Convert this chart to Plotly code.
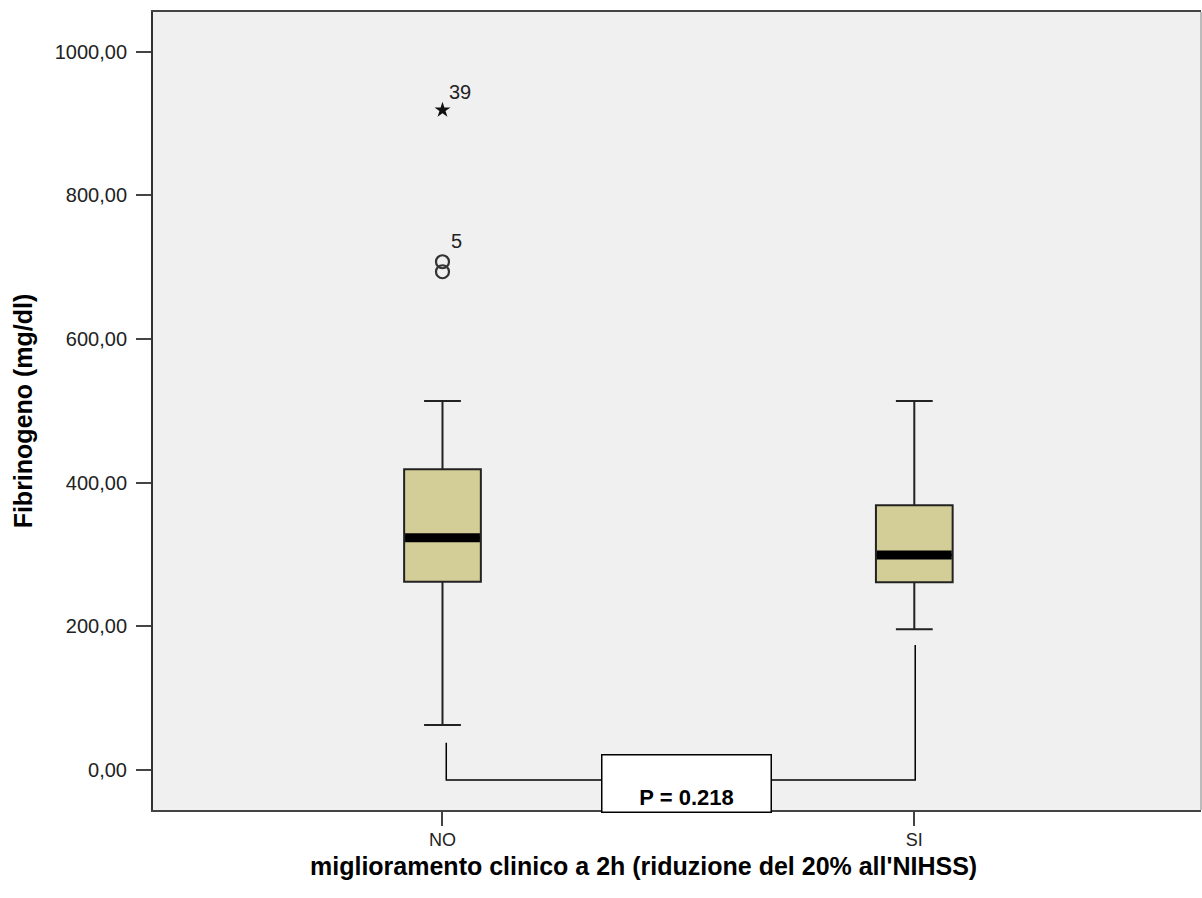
import plotly.graph_objects as go

# ---- data ----
categories = ["NO", "SI"]
positions = [0, 1]
q1 = [262.2, 261.3]
median = [323.4, 299.3]
q3 = [418.6, 368.5]
lower_whisker = [62.6, 195.8]
upper_whisker = [513.7, 513.7]

extreme_y = [918.8]          # star outlier (case 39), group NO
extreme_labels = ["39"]
outlier_y = [707.6, 693.7]   # circle outliers, group NO
outlier_labels = ["5", ""]

ytick_vals = [0, 200, 400, 600, 800, 1000]
ytick_text = ["0,00", "200,00", "400,00", "600,00", "800,00", "1000,00"]

p_text = "P = 0.218"
bracket_left_top = 38
bracket_right_top = 174
bracket_level = -13.9

# ---- style ----
FONT = "Liberation Sans, Arial, sans-serif"
BOX_FILL = "#d3cd97"
BOX_W = 0.1626

fig = go.Figure()

for i, pos in enumerate(positions):
    fig.add_trace(go.Box(
        x=[pos], q1=[q1[i]], median=[median[i]], q3=[q3[i]],
        lowerfence=[lower_whisker[i]], upperfence=[upper_whisker[i]],
        width=BOX_W, whiskerwidth=0.48, boxpoints=False,
        fillcolor=BOX_FILL, line=dict(color="#222222", width=2),
        showlegend=False, hoverinfo="skip",
    ))
    # thick median bar
    fig.add_trace(go.Scatter(
        x=[pos - BOX_W / 2 + 0.002, pos + BOX_W / 2 - 0.002],
        y=[median[i], median[i]], mode="lines",
        line=dict(color="black", width=9), showlegend=False, hoverinfo="skip",
    ))

# extreme outlier (star)
fig.add_trace(go.Scatter(
    x=[positions[0]] * len(extreme_y), y=extreme_y, mode="markers",
    marker=dict(symbol="star", size=12, color="#111111"),
    showlegend=False, hoverinfo="skip",
))
# outliers (circles)
fig.add_trace(go.Scatter(
    x=[positions[0]] * len(outlier_y), y=outlier_y, mode="markers",
    marker=dict(symbol="circle-open", size=13, color="#333333", line=dict(width=2.2)),
    showlegend=False, hoverinfo="skip",
))

annotations = []
for yv, lab in zip(extreme_y, extreme_labels):
    annotations.append(dict(x=positions[0], y=yv, text=lab, showarrow=False,
                            xref="x", yref="y", xshift=18, yshift=18,
                            font=dict(family=FONT, size=20, color="#222")))
for yv, lab in zip(outlier_y, outlier_labels):
    if lab:
        annotations.append(dict(x=positions[0], y=yv, text=lab, showarrow=False,
                                xref="x", yref="y", xshift=14, yshift=21,
                                font=dict(family=FONT, size=20, color="#222")))

# bracket
fig.add_trace(go.Scatter(
    x=[positions[0] + 0.008, positions[0] + 0.008, positions[1] + 0.002, positions[1] + 0.002],
    y=[bracket_left_top, bracket_level, bracket_level, bracket_right_top],
    mode="lines", line=dict(color="black", width=1.5),
    showlegend=False, hoverinfo="skip",
))

# p-value box
annotations.append(dict(
    x=0.5176, y=-18.6, xref="x", yref="y", showarrow=False,
    text="<b>" + p_text + "</b>", width=164, height=52, valign="bottom",
    bgcolor="white", bordercolor="black", borderwidth=1.5, borderpad=2,
    font=dict(family=FONT, size=22, color="black"),
))

# x-axis title
annotations.append(dict(
    x=0.4676, y=-0.0705, xref="paper", yref="paper", showarrow=False,
    xanchor="center", yanchor="middle",
    text="<b>miglioramento clinico a 2h (riduzione del 20% all'NIHSS)</b>",
    font=dict(family=FONT, size=25, color="black"),
))

fig.update_layout(
    width=1202, height=898,
    margin=dict(l=153, r=1, t=12, b=88),
    paper_bgcolor="white", plot_bgcolor="#f0f0f0",
    font=dict(family=FONT, size=20, color="#222"),
    annotations=annotations,
    shapes=[dict(type="line", xref="paper", yref="paper", x0=1, x1=1, y0=0, y1=1,
                 line=dict(color="#bbbbbb", width=2))],
)
fig.update_xaxes(
    range=[-0.6136, 1.6077], tickvals=positions, ticktext=categories,
    showgrid=False, zeroline=False, showline=True, linecolor="#444", linewidth=2,
    mirror=True, ticks="outside", ticklen=14, tickwidth=2, tickcolor="#444",
    ticklabelstandoff=-2,
    tickfont=dict(family=FONT, size=18, color="#222"),
)
fig.update_yaxes(
    range=[-55.7, 1055.3], tickvals=ytick_vals, ticktext=ytick_text,
    showgrid=False, zeroline=False, showline=True, linecolor="#333", linewidth=2,
    ticks="outside", ticklen=15, tickwidth=2, tickcolor="#444",
    ticklabelstandoff=5,
    tickfont=dict(family=FONT, size=20, color="#222"),
    title=dict(text="<b>Fibrinogeno (mg/dl)</b>", standoff=15,
               font=dict(family=FONT, size=25, color="black")),
)

fig.write_html("out.html")
